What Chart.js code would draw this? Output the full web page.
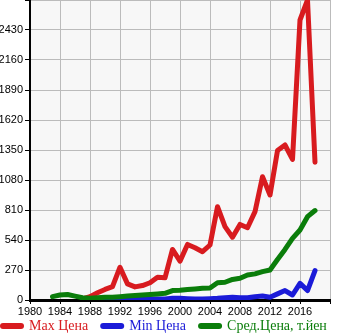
<!DOCTYPE html>
<html>
<head>
<meta charset="utf-8">
<script src="https://cdn.jsdelivr.net/npm/chart.js@4/dist/chart.umd.min.js"></script>
<style>
  html, body { margin: 0; padding: 0; background: #fff; }
  #wrap { width: 345px; height: 335px; }
</style>
</head>
<body>
<div id="wrap"><canvas id="price-chart" width="345" height="335"></canvas></div>
<script>
const years = [1983, 1984, 1985, 1986, 1987, 1988, 1989, 1990, 1991, 1992,
  1993, 1994, 1995, 1996, 1997, 1998, 1999, 2000, 2001, 2002,
  2003, 2004, 2005, 2006, 2007, 2008, 2009, 2010, 2011, 2012,
  2013, 2014, 2015, 2016, 2017, 2018];

const maxPrice = [null, null, null, null, 10, 30, 65, 95, 120, 295,
  145, 118, 130, 155, 205, 200, 455, 350, 500, 470,
  435, 495, 840, 660, 565, 680, 650, 795, 1110, 945,
  1345, 1395, 1265, 2520, 2700, 1240];

const minPrice = [null, null, null, null, 3, 3, 3, 3, 3, 5,
  5, 5, 8, 10, 10, 10, 15, 15, 12, 10,
  10, 12, 15, 20, 25, 20, 20, 30, 36, 25,
  55, 85, 45, 150, 85, 265];

const avgPrice = [30, 45, 50, 35, 20, 15, 20, 25, 25, 30,
  35, 40, 45, 50, 55, 60, 85, 88, 95, 100,
  105, 108, 155, 160, 185, 195, 225, 235, 255, 270,
  365, 455, 555, 630, 750, 805];

const seriesNames = ["Max Цена", "Min Цена", "Сред.Цена, т.йен"];
const seriesColors = ["#d81b1f", "#1b1bd8", "#0a7d0a"];

const toPoints = (vals) => years.map((yr, i) => ({ x: yr, y: vals[i] }));

// light grey plot background
const plotBg = {
  id: "plotBg",
  beforeDraw(chart) {
    const { ctx, chartArea: a } = chart;
    ctx.save();
    ctx.fillStyle = "#f7f7f7";
    ctx.fillRect(a.left, a.top, a.right - a.left, a.bottom - a.top);
    ctx.restore();
  },
};

// legend row under the x axis
const bottomLegend = {
  id: "bottomLegend",
  afterDraw(chart) {
    const ctx = chart.ctx;
    const y = 326;
    let x = 3;
    ctx.save();
    ctx.font = "14px 'Liberation Serif', serif";
    ctx.textBaseline = "middle";
    chart.data.datasets.forEach((ds) => {
      ctx.strokeStyle = ds.borderColor;
      ctx.lineWidth = 6;
      ctx.lineCap = "round";
      ctx.beginPath();
      ctx.moveTo(x, y);
      ctx.lineTo(x + 18, y);
      ctx.stroke();
      ctx.fillStyle = ds.borderColor;
      ctx.fillText(ds.label, x + 26, y);
      x += 26 + ctx.measureText(ds.label).width + 15;
    });
    ctx.restore();
  },
};

const ctx = document.getElementById("price-chart").getContext("2d");

const chart = new Chart(ctx, {
  type: "line",
  data: {
    datasets: [
      { label: seriesNames[0], data: toPoints(maxPrice), borderColor: seriesColors[0], order: 2 },
      { label: seriesNames[1], data: toPoints(minPrice), borderColor: seriesColors[1], order: 1 },
      { label: seriesNames[2], data: toPoints(avgPrice), borderColor: seriesColors[2], order: 0 },
    ],
  },
  options: {
    responsive: false,
    animation: false,
    layout: { padding: { top: 0, right: 15, bottom: 19, left: 0 } },
    elements: {
      line: { borderWidth: 5, tension: 0, borderJoinStyle: "round", borderCapStyle: "round" },
      point: { radius: 0 },
    },
    plugins: {
      legend: { display: false },
      tooltip: { enabled: false },
    },
    scales: {
      x: {
        type: "linear",
        min: 1980,
        max: 2020,
        afterFit: (scale) => {
          scale.height = 16;
          scale.paddingLeft = 0;
          scale.paddingRight = 0;
        },
        border: { display: true, color: "#000", width: 3 },
        grid: { color: "#bbbbbb", tickColor: "#000", tickLength: 4 },
        ticks: {
          stepSize: 4,
          padding: 1,
          maxRotation: 0,
          color: "#000",
          font: { family: "'Liberation Sans', Arial, sans-serif", size: 11 },
          callback: (v) => (v === 2020 ? "" : String(v)),
        },
      },
      y: {
        min: 0,
        max: 2700,
        afterFit: (scale) => {
          scale.width = 30;
          scale.paddingTop = 0;
          scale.paddingBottom = 0;
        },
        border: { display: true, color: "#000", width: 2 },
        grid: { color: "#bbbbbb", tickColor: "#000", tickLength: 5 },
        ticks: {
          stepSize: 270,
          padding: 2,
          color: "#000",
          font: { family: "'Liberation Sans', Arial, sans-serif", size: 11 },
          callback: (v) => (v === 2700 ? "" : String(v)),
        },
      },
    },
  },
  plugins: [plotBg, bottomLegend],
});
</script>
</body>
</html>
